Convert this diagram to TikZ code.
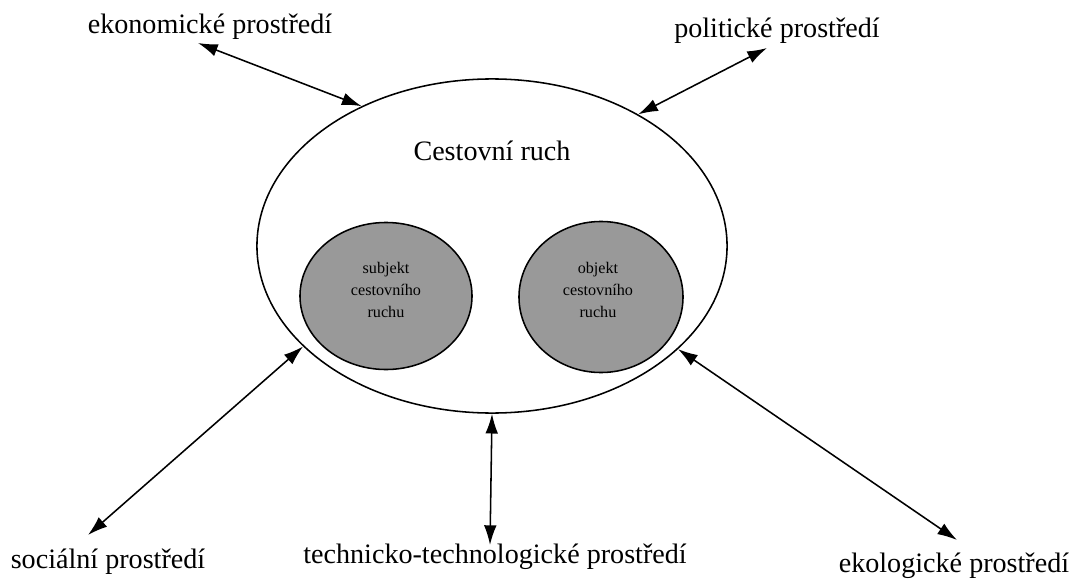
\documentclass[tikz,border=0pt]{standalone}
\usepackage{fontspec}
\setmainfont{Liberation Serif}
\usetikzlibrary{arrows, positioning, shapes.geometric, arrows.meta}

\begin{document}
\begin{tikzpicture}[x=0.025cm, y=-0.025cm, >={Latex[length=14pt,width=9pt]},
		envlabel/.style={font=\fontsize{20}{24}\selectfont, anchor=base},
		part/.style={ellipse, draw, line width=1.1pt, fill=black!40, inner sep=0pt},
		parttext/.style={align=center, font=\fontsize{11.5}{15.6}\selectfont},
		link/.style={<->, line width=1.1pt}]
		\useasboundingbox (0,0) rectangle (1081,585);

		\node[ellipse, draw, line width=1.1pt, minimum width=11.75cm, minimum height=8.35cm, inner sep=0pt] (ruch) at (492,246) {};
		\node[envlabel] (ruchtext) at (492,160) {Cestovní ruch};
		\node[part, minimum width=4.3cm, minimum height=3.675cm] (subjekt) at (386,296) {};
		\node[part, minimum width=4.1cm, minimum height=3.775cm] (objekt) at (601,297) {};
		\node[parttext] (subjekttext) at (386,290) {subjekt\\cestovního\\ruchu};
		\node[parttext] (objekttext) at (598,290) {objekt\\cestovního\\ruchu};

		\node[envlabel] (ekonom) at (210,33) {ekonomické prostředí};
		\node[envlabel] (polit) at (777,37) {politické prostředí};
		\node[envlabel] (social) at (108,568) {sociální prostředí};
		\node[envlabel] (techno) at (495,563) {technicko-technologické prostředí};
		\node[envlabel] (ekolog) at (954,572) {ekologické prostředí};

		\coordinate (ekonomend) at (198,43);
		\coordinate (politend) at (767,48);
		\coordinate (socialend) at (88,535);
		\coordinate (technoend) at (490,545);
		\coordinate (ekologend) at (957,540);

		\draw[link] (ekonomend) -- (ruch.133);
		\draw[link] (politend) -- (ruch.42);
		\draw[link] (socialend) -- (ruch.208.6);
		\draw[link] (technoend) -- (ruch.270);
		\draw[link] (ekologend) -- (ruch.331);
	\end{tikzpicture}
\end{document}
